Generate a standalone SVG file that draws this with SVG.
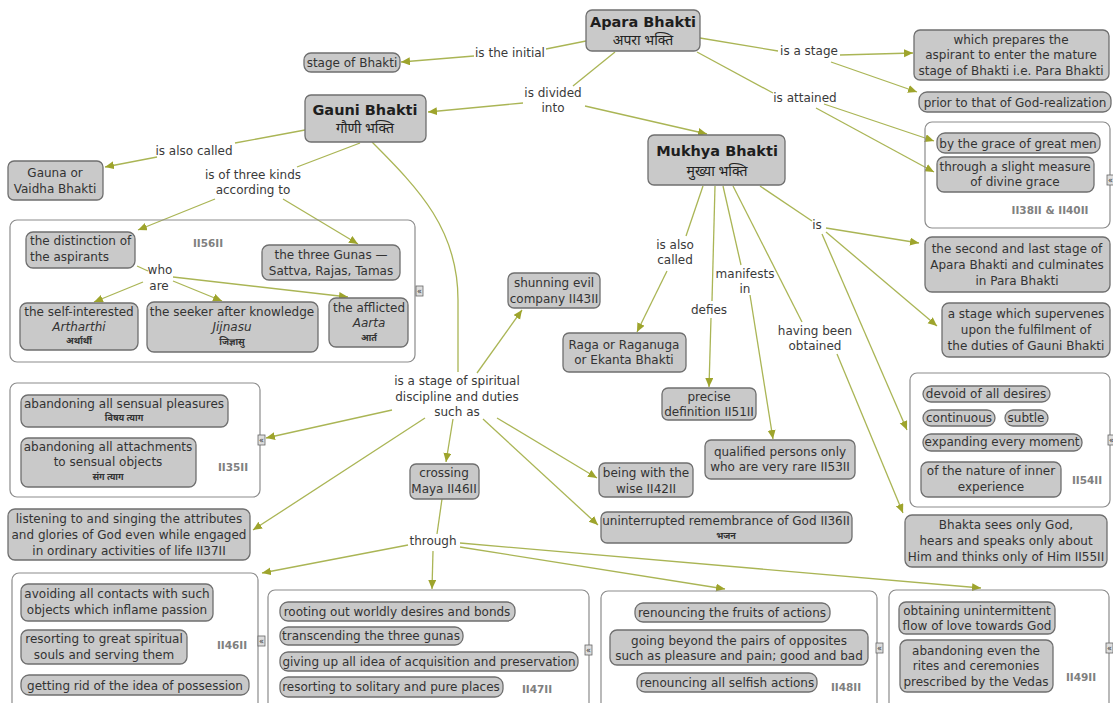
<svg xmlns="http://www.w3.org/2000/svg" width="1113" height="703" viewBox="0 0 1113 703">
  <style>
    .bg { fill: #ffffff; }
    .node { fill: #c9c9c9; stroke: #6f6f6f; stroke-width: 1.3; }
    .pill { fill: #c9c9c9; stroke: #6f6f6f; stroke-width: 1.3; }
    .box { fill: none; stroke: #8c8c8c; stroke-width: 1.2; }
    text { font-family: "DejaVu Sans", Verdana, sans-serif; font-size: 12px; fill: #333333; text-anchor: middle; }
    .head { font-size: 14.5px; font-weight: bold; fill: #1e1e1e; }
    .hi { font-family: "Noto Sans Devanagari", "Lohit Devanagari", "Noto Sans", sans-serif; font-size: 14px; fill: #222222; }
    .his { font-family: "Noto Sans Devanagari", "Lohit Devanagari", "Noto Sans", sans-serif; font-size: 9px; font-weight: bold; fill: #333333; }
    .it { font-style: italic; }
    .left { text-anchor: start; }
    .verse { font-size: 10.5px; font-weight: bold; fill: #808080; }
    .lab { fill: #3a3a3a; }
    .conn path { fill: none; stroke: #aab555; stroke-width: 1.3; }
    .conn path.a { marker-end: url(#ah); }
    .icon rect { fill: #dedede; stroke: #666666; stroke-width: 0.8; }
    .icon text { font-size: 8px; fill: #333333; }
  </style>
  <defs>
    <marker id="ah" markerUnits="userSpaceOnUse" markerWidth="10" markerHeight="10" refX="9" refY="4" orient="auto">
      <path d="M0,0 L9,4 L0,8 z" fill="#9ea42c"/>
    </marker>
    <g id="collapse" class="icon">
      <rect x="0" y="0" width="7" height="10"/>
      <text x="3.5" y="8">«</text>
    </g>
  </defs>
  <rect class="bg" x="0" y="0" width="1113" height="703"/>

  <!-- connectors -->
  <g id="connectors" class="conn">
    <!-- Apara Bhakti -->
    <path d="M586 41 L546 49"/>
    <path class="a" d="M474 56 L401 62"/>
    <path d="M615 52 L573 86"/>
    <path class="a" d="M523 103 L428 112"/>
    <path class="a" d="M585 106 L707 134"/>
    <path d="M700 38 L778 51"/>
    <path class="a" d="M840 55 L913 53"/>
    <path class="a" d="M831 62 L917 92"/>
    <path d="M697 52 L773 93"/>
    <path class="a" d="M824 104 L934 141"/>
    <path class="a" d="M816 108 L934 172"/>
    <!-- Gauni Bhakti -->
    <path d="M305 130 L235 143"/>
    <path class="a" d="M157 157 L105 167"/>
    <path d="M360 143 L297 167"/>
    <path class="a" d="M215 199 L138 230"/>
    <path class="a" d="M283 199 L358 244"/>
    <path d="M137 266 L148 271"/>
    <path class="a" d="M143 282 L94 302"/>
    <path class="a" d="M173 281 L222 301"/>
    <path class="a" d="M173 277 L348 297"/>
    <path d="M372 142 C420 190, 458 230, 458 300 L458 372"/>
    <!-- spiritual discipline -->
    <path class="a" d="M477 373 L522 310"/>
    <path class="a" d="M392 410 L266 438"/>
    <path class="a" d="M425 418 L253 530"/>
    <path class="a" d="M453 419 L446 462"/>
    <path class="a" d="M497 418 L597 478"/>
    <path class="a" d="M483 419 L598 525"/>
    <!-- crossing Maya -->
    <path d="M442 499 L437 534"/>
    <path class="a" d="M408 545 L262 573"/>
    <path class="a" d="M433 551 L432 589"/>
    <path class="a" d="M460 547 L725 589"/>
    <path class="a" d="M460 543 L981 588"/>
    <!-- Mukhya Bhakti -->
    <path d="M703 186 L686 236"/>
    <path class="a" d="M667 271 L637 332"/>
    <path d="M715 186 L712 301"/>
    <path class="a" d="M711 318 L709 387"/>
    <path d="M723 186 L741 265"/>
    <path class="a" d="M750 295 L773 439"/>
    <path d="M733 186 L802 322"/>
    <path class="a" d="M837 354 L903 513"/>
    <path d="M760 186 L812 221"/>
    <path class="a" d="M826 228 L919 243"/>
    <path class="a" d="M826 232 L937 326"/>
    <path class="a" d="M822 234 L907 430"/>
  </g>

  <!-- connector labels -->
  <g id="labels">
    <text class="lab" x="510" y="57">is the initial</text>
    <text class="lab" x="553" y="97">is divided</text>
    <text class="lab" x="553" y="112">into</text>
    <text class="lab" x="809" y="55">is a stage</text>
    <text class="lab" x="805" y="102">is attained</text>
    <text class="lab" x="194" y="155">is also called</text>
    <text class="lab" x="253" y="179">is of three kinds</text>
    <text class="lab" x="253" y="194">according to</text>
    <text class="lab" x="160" y="274">who</text>
    <text class="lab" x="159" y="290">are</text>
    <text class="lab" x="457" y="385">is a stage of spiritual</text>
    <text class="lab" x="457" y="401">discipline and duties</text>
    <text class="lab" x="457" y="416">such as</text>
    <text class="lab" x="433" y="545">through</text>
    <text class="lab" x="675" y="249">is also</text>
    <text class="lab" x="675" y="264">called</text>
    <text class="lab" x="709" y="314">defies</text>
    <text class="lab" x="745" y="278">manifests</text>
    <text class="lab" x="745" y="293">in</text>
    <text class="lab" x="815" y="335">having been</text>
    <text class="lab" x="815" y="350">obtained</text>
    <text class="lab" x="817" y="229">is</text>
  </g>

  <!-- top level -->
  <g id="apara-bhakti">
    <rect class="node" x="586" y="10" width="114" height="41" rx="6"/>
    <text class="head" x="643" y="27">Apara Bhakti</text>
    <text class="hi" x="643" y="45">अपरा भक्ति</text>
  </g>
  <g id="stage-of-bhakti">
    <rect class="pill" x="304" y="53" width="96" height="19" rx="7"/>
    <text x="352" y="67">stage of Bhakti</text>
  </g>
  <g id="gauni-bhakti">
    <rect class="node" x="305" y="95" width="121" height="47" rx="6"/>
    <text class="head" x="365" y="115">Gauni Bhakti</text>
    <text class="hi" x="365" y="133">गौणी भक्ति</text>
  </g>
  <g id="mukhya-bhakti">
    <rect class="node" x="648" y="135" width="137" height="50" rx="6"/>
    <text class="head" x="717" y="156">Mukhya Bhakti</text>
    <text class="hi" x="717" y="176">मुख्या भक्ति</text>
  </g>
  <g id="prepares-aspirant">
    <rect class="node" x="914" y="30" width="195" height="50" rx="6"/>
    <text x="1011" y="44">which prepares the</text>
    <text x="1011" y="59">aspirant to enter the mature</text>
    <text x="1011" y="75">stage of Bhakti i.e. Para Bhakti</text>
  </g>
  <g id="prior-to-realization">
    <rect class="pill" x="919" y="92" width="192" height="20" rx="8"/>
    <text x="1015" y="107">prior to that of God-realization</text>
  </g>
  <g id="attained-by">
    <rect class="box" x="925" y="122" width="185" height="106" rx="7"/>
    <rect class="pill" x="937" y="133" width="163" height="20" rx="8"/>
    <text x="1018" y="148">by the grace of great men</text>
    <rect class="pill" x="937" y="157" width="157" height="35" rx="7"/>
    <text x="1015" y="171">through a slight measure</text>
    <text x="1015" y="186">of divine grace</text>
    <text class="verse" x="1050" y="214">II38II &amp; II40II</text>
    <use href="#collapse" x="1107" y="175"/>
  </g>

  <!-- Gauni Bhakti branch -->
  <g id="gauna-vaidha">
    <rect class="node" x="8" y="161" width="95" height="39" rx="6"/>
    <text x="55" y="177">Gauna or</text>
    <text x="55" y="193">Vaidha Bhakti</text>
  </g>
  <g id="three-kinds">
    <rect class="box" x="10" y="220" width="405" height="142" rx="7"/>
    <rect class="pill" x="26" y="232" width="109" height="36" rx="7"/>
    <text class="left" x="30" y="245">the distinction of</text>
    <text class="left" x="30" y="261">the aspirants</text>
    <text class="verse" x="208" y="247">II56II</text>
    <rect class="pill" x="262" y="245" width="138" height="35" rx="7"/>
    <text x="331" y="259">the three Gunas —</text>
    <text x="331" y="275">Sattva, Rajas, Tamas</text>
    <rect class="pill" x="20" y="303" width="118" height="47" rx="7"/>
    <text x="79" y="316">the self-interested</text>
    <text class="it" x="79" y="331">Artharthi</text>
    <text class="his" x="79" y="344">अर्थार्थी</text>
    <rect class="pill" x="147" y="302" width="171" height="50" rx="7"/>
    <text x="232" y="316">the seeker after knowledge</text>
    <text class="it" x="232" y="331">Jijnasu</text>
    <text class="his" x="232" y="345">जिज्ञासु</text>
    <rect class="pill" x="329" y="298" width="79" height="49" rx="7"/>
    <text x="369" y="312">the afflicted</text>
    <text class="it" x="369" y="327">Aarta</text>
    <text class="his" x="369" y="341">आर्त</text>
    <use href="#collapse" x="416" y="286"/>
  </g>
  <g id="shunning-evil">
    <rect class="node" x="508" y="273" width="92" height="35" rx="6"/>
    <text x="554" y="287">shunning evil</text>
    <text x="554" y="303">company II43II</text>
  </g>
  <g id="abandoning">
    <rect class="box" x="10" y="383" width="250" height="114" rx="7"/>
    <rect class="pill" x="21" y="395" width="207" height="32" rx="7"/>
    <text x="124" y="408">abandoning all sensual pleasures</text>
    <text class="his" x="124" y="421">विषय त्याग</text>
    <rect class="pill" x="21" y="438" width="175" height="49" rx="7"/>
    <text x="108" y="451">abandoning all attachments</text>
    <text x="108" y="466">to sensual objects</text>
    <text class="his" x="108" y="480">संग त्याग</text>
    <text class="verse" x="233" y="471">II35II</text>
    <use href="#collapse" x="258" y="435"/>
  </g>
  <g id="listening-singing">
    <rect class="node" x="8" y="509" width="242" height="51" rx="7"/>
    <text x="129" y="523">listening to and singing the attributes</text>
    <text x="129" y="539">and glories of God even while engaged</text>
    <text x="129" y="555">in ordinary activities of life II37II</text>
  </g>
  <g id="crossing-maya">
    <rect class="node" x="410" y="464" width="69" height="35" rx="6"/>
    <text x="444" y="477">crossing</text>
    <text x="444" y="493">Maya II46II</text>
  </g>
  <g id="being-with-wise">
    <rect class="node" x="599" y="463" width="94" height="34" rx="6"/>
    <text x="646" y="477">being with the</text>
    <text x="646" y="493">wise II42II</text>
  </g>
  <g id="remembrance">
    <rect class="node" x="601" y="512" width="251" height="31" rx="6"/>
    <text x="726" y="525">uninterrupted remembrance of God II36II</text>
    <text class="his" x="726" y="539">भजन</text>
  </g>

  <!-- through ... -->
  <g id="avoiding-contacts">
    <rect class="box" x="12" y="573" width="246" height="140" rx="7"/>
    <rect class="pill" x="21" y="584" width="192" height="37" rx="7"/>
    <text x="117" y="598">avoiding all contacts with such</text>
    <text x="117" y="614">objects which inflame passion</text>
    <rect class="pill" x="21" y="630" width="166" height="34" rx="7"/>
    <text x="104" y="643">resorting to great spiritual</text>
    <text x="104" y="659">souls and serving them</text>
    <rect class="pill" x="21" y="675" width="228" height="20" rx="8"/>
    <text x="135" y="690">getting rid of the idea of possession</text>
    <text class="verse" x="232" y="649">II46II</text>
    <use href="#collapse" x="258" y="636"/>
  </g>
  <g id="rooting-out">
    <rect class="box" x="268" y="590" width="321" height="130" rx="7"/>
    <rect class="pill" x="280" y="602" width="235" height="19" rx="8"/>
    <text x="397" y="616">rooting out worldly desires and bonds</text>
    <rect class="pill" x="280" y="627" width="183" height="18" rx="8"/>
    <text x="371" y="640">transcending the three gunas</text>
    <rect class="pill" x="280" y="652" width="298" height="19" rx="8"/>
    <text x="429" y="666">giving up all idea of acquisition and preservation</text>
    <rect class="pill" x="280" y="677" width="223" height="20" rx="8"/>
    <text x="391" y="691">resorting to solitary and pure places</text>
    <text class="verse" x="537" y="693">II47II</text>
    <use href="#collapse" x="585" y="645"/>
  </g>
  <g id="renouncing">
    <rect class="box" x="601" y="591" width="276" height="130" rx="7"/>
    <rect class="pill" x="635" y="603" width="195" height="19" rx="8"/>
    <text x="732" y="617">renouncing the fruits of actions</text>
    <rect class="pill" x="610" y="630" width="258" height="35" rx="7"/>
    <text x="739" y="645">going beyond the pairs of opposites</text>
    <text x="739" y="660">such as pleasure and pain; good and bad</text>
    <rect class="pill" x="637" y="673" width="180" height="19" rx="8"/>
    <text x="727" y="687">renouncing all selfish actions</text>
    <text class="verse" x="846" y="691">II48II</text>
    <use href="#collapse" x="876" y="643"/>
  </g>
  <g id="unintermittent-love">
    <rect class="box" x="889" y="590" width="220" height="130" rx="7"/>
    <rect class="pill" x="899" y="602" width="156" height="32" rx="7"/>
    <text x="977" y="615">obtaining unintermittent</text>
    <text x="977" y="630">flow of love towards God</text>
    <rect class="pill" x="900" y="640" width="153" height="52" rx="7"/>
    <text x="976" y="655">abandoning even the</text>
    <text x="976" y="670">rites and ceremonies</text>
    <text x="976" y="686">prescribed by the Vedas</text>
    <text class="verse" x="1081" y="681">II49II</text>
    <use href="#collapse" x="1106" y="643"/>
  </g>

  <!-- Mukhya Bhakti branch -->
  <g id="raga-ekanta">
    <rect class="node" x="563" y="333" width="123" height="39" rx="6"/>
    <text x="624" y="349">Raga or Raganuga</text>
    <text x="624" y="364">or Ekanta Bhakti</text>
  </g>
  <g id="precise-definition">
    <rect class="node" x="662" y="388" width="94" height="32" rx="6"/>
    <text x="709" y="401">precise</text>
    <text x="709" y="416">definition II51II</text>
  </g>
  <g id="qualified-persons">
    <rect class="node" x="705" y="440" width="150" height="39" rx="6"/>
    <text x="780" y="456">qualified persons only</text>
    <text x="780" y="471">who are very rare II53II</text>
  </g>
  <g id="second-last-stage">
    <rect class="node" x="925" y="237" width="185" height="55" rx="7"/>
    <text x="1017" y="253">the second and last stage of</text>
    <text x="1017" y="269">Apara Bhakti and culminates</text>
    <text x="1017" y="285">in Para Bhakti</text>
  </g>
  <g id="supervenes">
    <rect class="node" x="942" y="303" width="168" height="54" rx="7"/>
    <text x="1026" y="318">a stage which supervenes</text>
    <text x="1026" y="334">upon the fulfilment of</text>
    <text x="1026" y="350">the duties of Gauni Bhakti</text>
  </g>
  <g id="devoid-desires">
    <rect class="box" x="910" y="373" width="200" height="134" rx="7"/>
    <rect class="pill" x="923" y="386" width="127" height="16" rx="8"/>
    <text x="986" y="398">devoid of all desires</text>
    <rect class="pill" x="923" y="410" width="72" height="16" rx="8"/>
    <text x="959" y="422">continuous</text>
    <rect class="pill" x="1005" y="410" width="43" height="16" rx="8"/>
    <text x="1026" y="422">subtle</text>
    <rect class="pill" x="923" y="434" width="159" height="17" rx="8"/>
    <text x="1002" y="446">expanding every moment</text>
    <rect class="pill" x="921" y="462" width="140" height="35" rx="7"/>
    <text x="991" y="475">of the nature of inner</text>
    <text x="991" y="491">experience</text>
    <text class="verse" x="1087" y="484">II54II</text>
    <use href="#collapse" x="1108" y="435"/>
  </g>
  <g id="bhakta-sees">
    <rect class="node" x="905" y="515" width="202" height="52" rx="7"/>
    <text x="1006" y="529">Bhakta sees only God,</text>
    <text x="1006" y="545">hears and speaks only about</text>
    <text x="1006" y="561">Him and thinks only of Him II55II</text>
  </g>
</svg>
